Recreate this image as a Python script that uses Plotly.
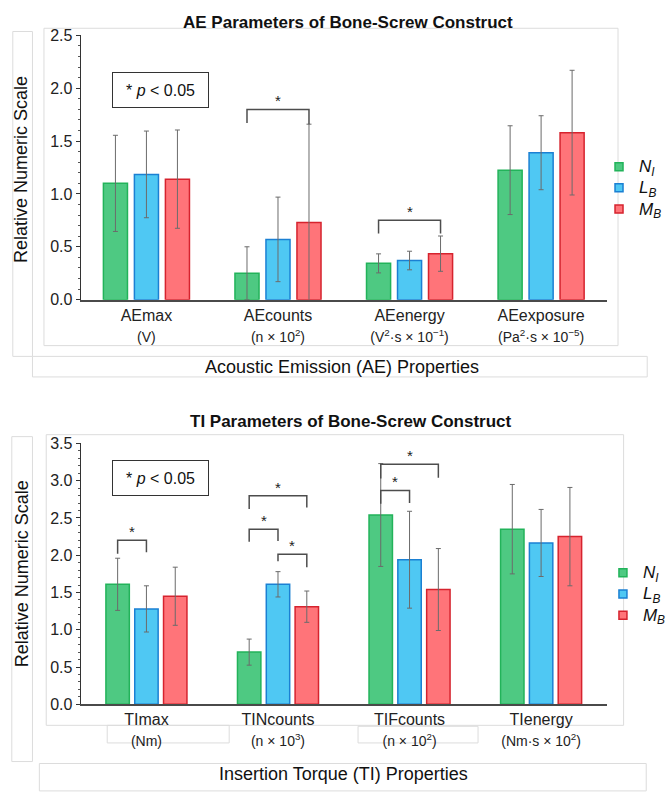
import plotly.graph_objects as go

# ---------------- data ----------------
series = ["N_I", "L_B", "M_B"]
legend_names = ["<span style='font-size:17px'><i>N</i><sub><i>I</i></sub></span>",
                "<span style='font-size:17px'><i>L</i><sub><i>B</i></sub></span>",
                "<span style='font-size:17px'><i>M</i><sub><i>B</i></sub></span>"]

ae_categories = ["AEmax", "AEcounts", "AEenergy", "AEexposure"]
ae_units = ["(V)", "(n × 10<sup>2</sup>)", "(V<sup>2</sup>·s × 10<sup>−1</sup>)", "(Pa<sup>2</sup>·s × 10<sup>−5</sup>)"]
ae_N = [1.10, 0.25, 0.343, 1.225]
ae_L = [1.185, 0.57, 0.37, 1.39]
ae_M = [1.14, 0.73, 0.435, 1.58]
ae_N_err = [0.455, 0.25, 0.09, 0.42]
ae_L_err = [0.41, 0.40, 0.088, 0.35]
ae_M_err = [0.465, 0.93, 0.167, 0.59]

ti_categories = ["TImax", "TINcounts", "TIFcounts", "TIenergy"]
ti_units = ["(Nm)", "(n × 10<sup>3</sup>)", "(n × 10<sup>2</sup>)", "(Nm·s × 10<sup>2</sup>)"]
ti_N = [1.61, 0.70, 2.54, 2.35]
ti_L = [1.28, 1.61, 1.94, 2.165]
ti_M = [1.45, 1.31, 1.54, 2.25]
ti_N_err = [0.35, 0.175, 0.69, 0.60]
ti_L_err = [0.31, 0.17, 0.65, 0.45]
ti_M_err = [0.39, 0.21, 0.55, 0.66]

# significance brackets: (category index, series a, series b, top, leg a bottom, leg b bottom)
ae_brackets = [(1, 0, 2, 1.80, 1.67, 1.66), (2, 0, 2, 0.75, 0.625, 0.625)]
ti_brackets = [(0, 0, 1, 2.20, 2.02, 2.04),
               (1, 0, 2, 2.80, 2.62, 2.64),
               (1, 0, 1, 2.35, 2.18, 2.19),
               (1, 1, 2, 2.015, 1.92, 1.84),
               (2, 0, 2, 3.22, 3.03, 3.04),
               (2, 0, 1, 2.87, 2.69, 2.70)]

# ---------------- styles ----------------
FONT = "Liberation Sans, Arial, sans-serif"
fills = ["#4EC982", "#4FC8F3", "#FF7479"]
edges = ["#22B35A", "#1B80D3", "#D6232E"]
W, H = 671, 795


def px(x):
    return x / W


def py(y):
    return 1 - y / H


fig = go.Figure()

panels = [
    dict(cats=ae_categories, units=ae_units, vals=[ae_N, ae_L, ae_M], errs=[ae_N_err, ae_L_err, ae_M_err],
         xa="x", ya="y", slot=0.2356, width=0.183, brackets=ae_brackets, legend="legend"),
    dict(cats=ti_categories, units=ti_units, vals=[ti_N, ti_L, ti_M], errs=[ti_N_err, ti_L_err, ti_M_err],
         xa="x2", ya="y2", slot=0.219, width=0.178, brackets=ti_brackets, legend="legend2"),
]

for p in panels:
    for i in range(3):
        fig.add_trace(go.Bar(
            x=list(range(len(p["cats"]))), y=p["vals"][i],
            width=p["width"], offset=(i - 1) * p["slot"] - p["width"] / 2,
            marker=dict(color=fills[i], line=dict(color=edges[i], width=1.5)),
            error_y=dict(type="data", array=p["errs"][i], visible=True, color="#6b6b6b", thickness=1, width=2.5),
            xaxis=p["xa"], yaxis=p["ya"], showlegend=False, name=series[i],
        ))
    for i in range(3):
        fig.add_trace(go.Scatter(
            x=[None], y=[None], mode="markers", name=legend_names[i],
            marker=dict(symbol="square", size=8, color=fills[i], line=dict(color=edges[i], width=1.5)),
            xaxis=p["xa"], yaxis=p["ya"], legend=p["legend"],
        ))
    # brackets
    for (c, a, b, top, la, lb) in p["brackets"]:
        xa_ = c + (a - 1) * p["slot"]
        xb_ = c + (b - 1) * p["slot"]
        fig.add_shape(type="path",
                      path=f"M {xa_},{la} L {xa_},{top} L {xb_},{top} L {xb_},{lb}",
                      xref=p["xa"], yref=p["ya"], line=dict(color="#4d4d4d", width=1.5))
        fig.add_annotation(x=(xa_ + xb_) / 2, y=top, xref=p["xa"], yref=p["ya"], text="*",
                           showarrow=False, yanchor="bottom", yshift=-2,
                           font=dict(family=FONT, size=15, color="#222"))

ticktext_ae = [f"{c}<br><span style='font-size:14px'>{u}</span>" for c, u in zip(ae_categories, ae_units)]
ticktext_ti = [f"{c}<br><span style='font-size:14px'>{u}</span>" for c, u in zip(ti_categories, ti_units)]

xcommon = dict(showline=True, linecolor="#4a4a4a", linewidth=2, ticks="", showgrid=False, zeroline=False,
               tickfont=dict(family=FONT, size=16, color="#222"), range=[-0.5, 3.5],
               domain=[px(82), px(617)])
ycommon = dict(showline=True, linecolor="#333", linewidth=1, ticks="outside", ticklen=4, tickcolor="#333",
               dtick=0.5, tickformat=".1f", showgrid=False, zeroline=False,
               tickfont=dict(family=FONT, size=16, color="#222"),
               minor=dict(dtick=0.1, ticks="outside", ticklen=2, tickcolor="#555", showgrid=False))

fig.update_layout(
    width=W, height=H, margin=dict(l=0, r=0, t=0, b=0),
    paper_bgcolor="white", plot_bgcolor="white", barmode="overlay",
    font=dict(family=FONT, color="#222"),
    xaxis=dict(**xcommon, anchor="y", tickvals=[0, 1, 2, 3], ticktext=ticktext_ae),
    yaxis=dict(**ycommon, anchor="x", range=[0, 2.5], domain=[py(298), py(28)]),
    xaxis2=dict(**xcommon, anchor="y2", tickvals=[0, 1, 2, 3], ticktext=ticktext_ti),
    yaxis2=dict(**ycommon, anchor="x2", range=[0, 3.5], domain=[py(711.5), py(445)]),
    legend=dict(x=px(609), y=py(184), xanchor="left", yanchor="middle", itemwidth=30,
                font=dict(family=FONT, size=14, color="#111"), bgcolor="rgba(0,0,0,0)", tracegroupgap=0),
    legend2=dict(x=px(613), y=py(599), xanchor="left", yanchor="middle", itemwidth=30,
                 font=dict(family=FONT, size=14, color="#111"), bgcolor="rgba(0,0,0,0)", tracegroupgap=0),
)

# light layout frames
frame_col = "#dcdcdc"
frames = [
    (44.7, 20.7, 628.3, 345), (13, 24, 33, 356), (33, 356, 658, 377),
    (47, 436, 634, 733), (12, 438, 33, 770), (109, 733, 233, 751), (364, 734, 486, 751),
    (40, 772, 657, 800),
]
for (x0, y0, x1, y1) in frames:
    fig.add_shape(type="rect", xref="paper", yref="paper", x0=px(x0), x1=px(x1), y0=py(y1), y1=py(y0),
                  line=dict(color=frame_col, width=1), layer="below")

# titles & text
texts = [
    ("<b>AE Parameters of Bone-Screw Construct</b>", 354, 15, 17, 0),
    ("<b>TI Parameters of Bone-Screw Construct</b>", 357, 423, 17, 0),
    ("Acoustic Emission (AE) Properties", 348, 367, 18, 0),
    ("Insertion Torque (TI) Properties", 349, 783, 18, 0),
    ("Relative Numeric Scale", 22, 165, 18, -90),
    ("Relative Numeric Scale", 22, 578, 18, -90),
]
for t, x, y, s, ang in texts:
    fig.add_annotation(text=t, x=px(x), y=py(y), xref="paper", yref="paper", showarrow=False,
                       xanchor="center", yanchor="middle", textangle=ang,
                       font=dict(family=FONT, size=s, color="#111"))

for yc in (84, 480.5):
    fig.add_annotation(text="* <i>p</i> < 0.05", x=px(163.5), y=py(yc), xref="paper", yref="paper",
                       showarrow=False, xanchor="center", yanchor="middle", width=93, height=32,
                       bordercolor="#333", borderwidth=1, borderpad=1,
                       font=dict(family=FONT, size=16, color="#111"))

fig.write_html("out.html")
